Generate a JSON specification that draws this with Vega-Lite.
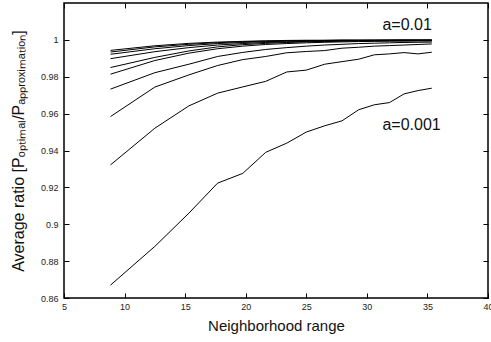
{
  "$schema": "https://vega.github.io/schema/vega-lite/v6.json",
  "width": 424,
  "height": 295,
  "autosize": "none",
  "padding": {"left": 64, "top": 3, "right": 3, "bottom": 44},
  "background": "white",
  "config": {
    "view": {"stroke": "black", "strokeWidth": 1.5},
    "font": "Liberation Sans"
  },
  "datasets": {
    "curves": [
      {"a":"0.001","x":8.84,"y":0.867},{"a":"0.001","x":12.5,"y":0.888},{"a":"0.001","x":15.31,"y":0.906},{"a":"0.001","x":17.68,"y":0.9223},{"a":"0.001","x":19.76,"y":0.9276},{"a":"0.001","x":21.65,"y":0.939},{"a":"0.001","x":23.39,"y":0.944},{"a":"0.001","x":25.0,"y":0.95},{"a":"0.001","x":26.52,"y":0.9534},{"a":"0.001","x":27.95,"y":0.9561},{"a":"0.001","x":29.32,"y":0.9621},{"a":"0.001","x":30.62,"y":0.9648},{"a":"0.001","x":31.87,"y":0.966},{"a":"0.001","x":33.07,"y":0.9707},{"a":"0.001","x":34.23,"y":0.9725},{"a":"0.001","x":35.36,"y":0.9738},
      {"a":"0.002","x":8.84,"y":0.9322},{"a":"0.002","x":12.5,"y":0.9521},{"a":"0.002","x":15.31,"y":0.9642},{"a":"0.002","x":17.68,"y":0.9711},{"a":"0.002","x":19.76,"y":0.9745},{"a":"0.002","x":21.65,"y":0.9775},{"a":"0.002","x":23.39,"y":0.9826},{"a":"0.002","x":25.0,"y":0.9836},{"a":"0.002","x":26.52,"y":0.9868},{"a":"0.002","x":27.95,"y":0.9882},{"a":"0.002","x":29.32,"y":0.9895},{"a":"0.002","x":30.62,"y":0.9919},{"a":"0.002","x":31.87,"y":0.9924},{"a":"0.002","x":33.07,"y":0.9931},{"a":"0.002","x":34.23,"y":0.9924},{"a":"0.002","x":35.36,"y":0.9933},
      {"a":"0.003","x":8.84,"y":0.9584},{"a":"0.003","x":12.5,"y":0.9744},{"a":"0.003","x":15.31,"y":0.981},{"a":"0.003","x":17.68,"y":0.9861},{"a":"0.003","x":19.76,"y":0.9893},{"a":"0.003","x":21.65,"y":0.991},{"a":"0.003","x":23.39,"y":0.993},{"a":"0.003","x":25.0,"y":0.9937},{"a":"0.003","x":26.52,"y":0.9942},{"a":"0.003","x":27.95,"y":0.9955},{"a":"0.003","x":29.32,"y":0.996},{"a":"0.003","x":30.62,"y":0.9966},{"a":"0.003","x":31.87,"y":0.9969},{"a":"0.003","x":33.07,"y":0.9972},{"a":"0.003","x":34.23,"y":0.9975},{"a":"0.003","x":35.36,"y":0.9978},
      {"a":"0.004","x":8.84,"y":0.9733},{"a":"0.004","x":12.5,"y":0.9822},{"a":"0.004","x":15.31,"y":0.9868},{"a":"0.004","x":17.68,"y":0.991},{"a":"0.004","x":19.76,"y":0.9932},{"a":"0.004","x":21.65,"y":0.9948},{"a":"0.004","x":23.39,"y":0.9958},{"a":"0.004","x":25.0,"y":0.9966},{"a":"0.004","x":26.52,"y":0.9972},{"a":"0.004","x":27.95,"y":0.9976},{"a":"0.004","x":29.32,"y":0.998},{"a":"0.004","x":30.62,"y":0.9982},{"a":"0.004","x":31.87,"y":0.9984},{"a":"0.004","x":33.07,"y":0.9986},{"a":"0.004","x":34.23,"y":0.9987},{"a":"0.004","x":35.36,"y":0.9988},
      {"a":"0.005","x":8.84,"y":0.9814},{"a":"0.005","x":12.5,"y":0.9888},{"a":"0.005","x":15.31,"y":0.9928},{"a":"0.005","x":17.68,"y":0.9952},{"a":"0.005","x":19.76,"y":0.9966},{"a":"0.005","x":21.65,"y":0.9975},{"a":"0.005","x":23.39,"y":0.998},{"a":"0.005","x":25.0,"y":0.9984},{"a":"0.005","x":26.52,"y":0.9987},{"a":"0.005","x":27.95,"y":0.9989},{"a":"0.005","x":29.32,"y":0.9991},{"a":"0.005","x":30.62,"y":0.9992},{"a":"0.005","x":31.87,"y":0.9993},{"a":"0.005","x":33.07,"y":0.9993},{"a":"0.005","x":34.23,"y":0.9994},{"a":"0.005","x":35.36,"y":0.9994},
      {"a":"0.006","x":8.84,"y":0.985},{"a":"0.006","x":12.5,"y":0.9905},{"a":"0.006","x":15.31,"y":0.994},{"a":"0.006","x":17.68,"y":0.9962},{"a":"0.006","x":19.76,"y":0.9974},{"a":"0.006","x":21.65,"y":0.9981},{"a":"0.006","x":23.39,"y":0.9986},{"a":"0.006","x":25.0,"y":0.9989},{"a":"0.006","x":26.52,"y":0.9991},{"a":"0.006","x":27.95,"y":0.9993},{"a":"0.006","x":29.32,"y":0.9994},{"a":"0.006","x":30.62,"y":0.9995},{"a":"0.006","x":31.87,"y":0.9995},{"a":"0.006","x":33.07,"y":0.9996},{"a":"0.006","x":34.23,"y":0.9996},{"a":"0.006","x":35.36,"y":0.9996},
      {"a":"0.007","x":8.84,"y":0.9898},{"a":"0.007","x":12.5,"y":0.9936},{"a":"0.007","x":15.31,"y":0.9958},{"a":"0.007","x":17.68,"y":0.9972},{"a":"0.007","x":19.76,"y":0.998},{"a":"0.007","x":21.65,"y":0.9986},{"a":"0.007","x":23.39,"y":0.9989},{"a":"0.007","x":25.0,"y":0.9992},{"a":"0.007","x":26.52,"y":0.9993},{"a":"0.007","x":27.95,"y":0.9995},{"a":"0.007","x":29.32,"y":0.9996},{"a":"0.007","x":30.62,"y":0.9996},{"a":"0.007","x":31.87,"y":0.9997},{"a":"0.007","x":33.07,"y":0.9997},{"a":"0.007","x":34.23,"y":0.9997},{"a":"0.007","x":35.36,"y":0.9998},
      {"a":"0.008","x":8.84,"y":0.9922},{"a":"0.008","x":12.5,"y":0.9952},{"a":"0.008","x":15.31,"y":0.9969},{"a":"0.008","x":17.68,"y":0.998},{"a":"0.008","x":19.76,"y":0.9986},{"a":"0.008","x":21.65,"y":0.999},{"a":"0.008","x":23.39,"y":0.9993},{"a":"0.008","x":25.0,"y":0.9995},{"a":"0.008","x":26.52,"y":0.9996},{"a":"0.008","x":27.95,"y":0.9997},{"a":"0.008","x":29.32,"y":0.9997},{"a":"0.008","x":30.62,"y":0.9998},{"a":"0.008","x":31.87,"y":0.9998},{"a":"0.008","x":33.07,"y":0.9998},{"a":"0.008","x":34.23,"y":0.9998},{"a":"0.008","x":35.36,"y":0.9998},
      {"a":"0.009","x":8.84,"y":0.9934},{"a":"0.009","x":12.5,"y":0.9962},{"a":"0.009","x":15.31,"y":0.9976},{"a":"0.009","x":17.68,"y":0.9985},{"a":"0.009","x":19.76,"y":0.999},{"a":"0.009","x":21.65,"y":0.9993},{"a":"0.009","x":23.39,"y":0.9995},{"a":"0.009","x":25.0,"y":0.9996},{"a":"0.009","x":26.52,"y":0.9997},{"a":"0.009","x":27.95,"y":0.9998},{"a":"0.009","x":29.32,"y":0.9998},{"a":"0.009","x":30.62,"y":0.9998},{"a":"0.009","x":31.87,"y":0.9999},{"a":"0.009","x":33.07,"y":0.9999},{"a":"0.009","x":34.23,"y":0.9999},{"a":"0.009","x":35.36,"y":0.9999},
      {"a":"0.01","x":8.84,"y":0.9943},{"a":"0.01","x":12.5,"y":0.9968},{"a":"0.01","x":15.31,"y":0.9981},{"a":"0.01","x":17.68,"y":0.9988},{"a":"0.01","x":19.76,"y":0.9992},{"a":"0.01","x":21.65,"y":0.9995},{"a":"0.01","x":23.39,"y":0.9997},{"a":"0.01","x":25.0,"y":0.9998},{"a":"0.01","x":26.52,"y":0.9998},{"a":"0.01","x":27.95,"y":0.9999},{"a":"0.01","x":29.32,"y":0.9999},{"a":"0.01","x":30.62,"y":0.9999},{"a":"0.01","x":31.87,"y":0.9999},{"a":"0.01","x":33.07,"y":1.0},{"a":"0.01","x":34.23,"y":1.0},{"a":"0.01","x":35.36,"y":1.0}
    ],
    "labels": [
      {"x": 35.36, "y": 1.0083, "t": "a=0.01"},
      {"x": 36.1, "y": 0.9539, "t": "a=0.001"}
    ]
  },
  "layer": [
    {
      "data": {"name": "curves"},
      "mark": {"type": "line", "color": "black", "strokeWidth": 1, "clip": true},
      "encoding": {
        "x": {
          "field": "x", "type": "quantitative",
          "scale": {"domain": [5, 40], "nice": false, "zero": false},
          "axis": {
            "orient": "bottom", "values": [5,10,15,20,25,30,35,40], "format": "d",
            "domain": false, "tickColor": "black", "tickSize": -5, "tickWidth": 1,
            "labelFontSize": 9, "labelColor": "#222", "labelPadding": 9, "labelFlush": false,
            "title": "Neighborhood range", "titleFontSize": 15, "titleFontWeight": "normal",
            "titleColor": "#111", "titlePadding": 7, "grid": false
          }
        },
        "y": {
          "field": "y", "type": "quantitative",
          "scale": {"domain": [0.86, 1.02], "nice": false, "zero": false},
          "axis": {
            "orient": "left", "values": [0.86,0.88,0.9,0.92,0.94,0.96,0.98,1.0], "format": "~g",
            "domain": false, "tickColor": "black", "tickSize": -5, "tickWidth": 1,
            "labelFontSize": 9, "labelColor": "#222", "labelPadding": 11, "labelFlush": false,
            "title": "Average ratio [Pₒₚₜᵢₘₐₗ/Pₐₚₚᵣₒₓᵢₘₐₜᵢₒₙ]", "titleFontSize": 16, "titleFontWeight": "normal",
            "titleColor": "#111", "titlePadding": 14, "grid": false
          }
        },
        "detail": {"field": "a", "type": "nominal"}
      }
    },
    {
      "data": {"name": "curves"},
      "mark": {"type": "line", "opacity": 0},
      "encoding": {
        "x": {
          "field": "x", "type": "quantitative",
          "axis": {"orient": "top", "values": [5,10,15,20,25,30,35,40], "labels": false, "title": null,
                   "domain": false, "tickColor": "black", "tickSize": -5, "grid": false}
        },
        "y": {
          "field": "y", "type": "quantitative",
          "axis": {"orient": "right", "values": [0.86,0.88,0.9,0.92,0.94,0.96,0.98,1.0], "labels": false, "title": null,
                   "domain": false, "tickColor": "black", "tickSize": -5, "grid": false}
        },
        "detail": {"field": "a", "type": "nominal"}
      }
    },
    {
      "data": {"name": "labels"},
      "mark": {"type": "text", "align": "right", "baseline": "middle", "fontSize": 16, "color": "#111", "font": "Liberation Sans"},
      "encoding": {
        "x": {"field": "x", "type": "quantitative", "axis": null},
        "y": {"field": "y", "type": "quantitative", "axis": null},
        "text": {"field": "t"}
      }
    }
  ],
  "resolve": {"axis": {"x": "independent", "y": "independent"}}
}
